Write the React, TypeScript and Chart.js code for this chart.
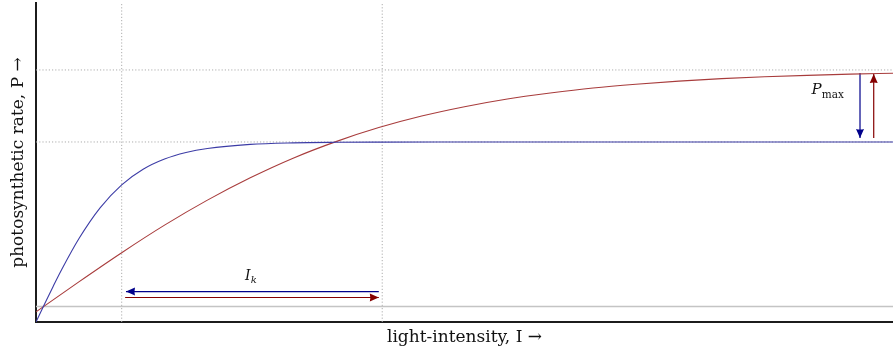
import { useEffect, useRef } from 'react';
import { Chart, registerables } from 'chart.js';

Chart.register(...registerables);

// light intensity axis (in units of the blue curve's I_k) and P axis (in units of blue P_max)
const X_MAX = 10;
const Y_MAX = 1.772;

const blueI = [0, 0.1, 0.2, 0.3, 0.5, 0.75, 1, 1.25, 1.5, 1.75, 2, 2.5, 3, 3.5, 4, 5, 6, 7, 8, 9, 10];
const blueP = [0, 0.0997, 0.1974, 0.2913, 0.4621, 0.6351, 0.7616, 0.8483, 0.9051, 0.9414, 0.964, 0.9866, 0.9951, 0.9982, 0.9993, 0.9999, 1, 1, 1, 1, 1];

const redI = [0, 0.5, 1, 1.5, 2, 2.5, 3, 3.5, 4, 4.5, 5, 5.5, 6, 6.5, 7, 7.5, 8, 8.5, 9, 9.5, 10];
const redP = [0.056, 0.223, 0.385, 0.538, 0.677, 0.801, 0.91, 1.002, 1.08, 1.144, 1.196, 1.239, 1.272, 1.3, 1.321, 1.338, 1.352, 1.362, 1.37, 1.377, 1.382];

const pmaxLevels = [1, 1.4];
const ikLevels = [1, 4.04];
const baseLevel = 0.086;

const ikBlueArrowI = [4.0, 1.05];
const ikBlueArrowP = [0.169, 0.169];
const ikRedArrowI = [1.04, 4.0];
const ikRedArrowP = [0.136, 0.136];
const pmaxBlueArrowI = [9.615, 9.615];
const pmaxBlueArrowP = [1.383, 1.022];
const pmaxRedArrowI = [9.775, 9.775];
const pmaxRedArrowP = [1.022, 1.378];

const ikLabelPos = [2.44, 0.233];
const pmaxLabelPos = [9.05, 1.267];

const BLUE = '#3c3ca6';
const RED = '#a83c3c';
const NAVY = '#00008b';
const DARKRED = '#850000';

const zip = (xs: number[], ys: number[]) => xs.map((x, i) => ({ x, y: ys[i] }));

function drawSubLabel(ctx: CanvasRenderingContext2D, x: number, y: number, main: string, mainSize: number, sub: string, subItalic: boolean, subSize: number, subDrop: number) {
  ctx.save();
  ctx.fillStyle = '#111';
  ctx.textBaseline = 'alphabetic';
  ctx.textAlign = 'left';
  ctx.font = `italic ${mainSize}px "DejaVu Serif"`;
  ctx.fillText(main, x, y);
  const w = ctx.measureText(main).width;
  ctx.font = `${subItalic ? 'italic ' : ''}${subSize}px "DejaVu Serif"`;
  ctx.fillText(sub, x + w, y + subDrop);
  ctx.restore();
}

const annotationPlugin = {
  id: 'annotations',
  afterDatasetsDraw(chart: any) {
    const ctx: CanvasRenderingContext2D = chart.ctx;
    chart.data.datasets.forEach((ds: any, i: number) => {
      if (!ds.arrow) return;
      const pts = chart.getDatasetMeta(i).data;
      const a = pts[pts.length - 2];
      const b = pts[pts.length - 1];
      const ang = Math.atan2(b.y - a.y, b.x - a.x);
      ctx.save();
      ctx.translate(b.x, b.y);
      ctx.rotate(ang);
      ctx.fillStyle = ds.borderColor;
      ctx.beginPath();
      ctx.moveTo(0, 0);
      ctx.lineTo(-9, -4);
      ctx.quadraticCurveTo(-8, 0, -9, 4);
      ctx.closePath();
      ctx.fill();
      ctx.restore();
    });
    const xs = chart.scales.x;
    const ys = chart.scales.y;
    drawSubLabel(ctx, xs.getPixelForValue(ikLabelPos[0]), ys.getPixelForValue(ikLabelPos[1]), 'I', 14, 'k', true, 10, 3);
    drawSubLabel(ctx, xs.getPixelForValue(pmaxLabelPos[0]), ys.getPixelForValue(pmaxLabelPos[1]), 'P', 15, 'max', false, 10.5, 4);
  },
};

export default function App() {
  const ref = useRef<HTMLCanvasElement | null>(null);

  useEffect(() => {
    document.body.style.margin = '0';
    if (!ref.current) return;
    const refLine = (data: { x: number; y: number }[]) => ({
      data,
      borderColor: '#adadad',
      borderWidth: 1,
      borderDash: [1.2, 2],
      pointRadius: 0,
      order: 10,
    });
    const arrowLine = (data: { x: number; y: number }[], color: string) => ({
      data,
      borderColor: color,
      borderWidth: 1.2,
      pointRadius: 0,
      arrow: true,
      order: 2,
    });
    const datasets: any[] = [
      ...pmaxLevels.map((p) => refLine([{ x: 0, y: p }, { x: X_MAX, y: p }])),
      ...ikLevels.map((i) => refLine([{ x: i, y: 0 }, { x: i, y: Y_MAX }])),
      {
        data: [{ x: 0, y: baseLevel }, { x: X_MAX, y: baseLevel }],
        borderColor: '#c4c4c4',
        borderWidth: 1.3,
        pointRadius: 0,
        order: 9,
      },
      {
        label: 'blue',
        data: zip(blueI, blueP),
        borderColor: BLUE,
        borderWidth: 1.1,
        pointRadius: 0,
        cubicInterpolationMode: 'monotone',
        order: 1,
      },
      {
        label: 'red',
        data: zip(redI, redP),
        borderColor: RED,
        borderWidth: 1.1,
        pointRadius: 0,
        cubicInterpolationMode: 'monotone',
        order: 1,
      },
      arrowLine(zip(ikBlueArrowI, ikBlueArrowP), NAVY),
      arrowLine(zip(ikRedArrowI, ikRedArrowP), DARKRED),
      arrowLine(zip(pmaxBlueArrowI, pmaxBlueArrowP), NAVY),
      arrowLine(zip(pmaxRedArrowI, pmaxRedArrowP), DARKRED),
    ];

    const chart = new Chart(ref.current, {
      type: 'line',
      data: { datasets },
      plugins: [annotationPlugin],
      options: {
        animation: false,
        responsive: false,
        events: [],
        layout: { padding: { top: 3, right: 0, left: 0, bottom: 0 } },
        plugins: { legend: { display: false }, tooltip: { enabled: false } },
        scales: {
          x: {
            type: 'linear',
            min: 0,
            max: X_MAX,
            grid: { display: false },
            ticks: { display: false },
            border: { display: true, color: '#1c1c1c', width: 2 },
            title: {
              display: true,
              text: 'light-intensity, I →',
              color: '#111',
              font: { family: '"DejaVu Serif"', size: 17 },
              padding: { top: 0, bottom: 5 },
            },
            afterFit: (s: any) => {
              s.height = 31;
            },
          },
          y: {
            type: 'linear',
            min: 0,
            max: Y_MAX,
            grid: { display: false },
            ticks: { display: false },
            border: { display: true, color: '#1c1c1c', width: 2 },
            title: {
              display: true,
              text: 'photosynthetic rate, P →',
              color: '#111',
              font: { family: '"DejaVu Serif"', size: 17 },
              padding: { top: 8, bottom: 0 },
            },
            afterFit: (s: any) => {
              s.width = 36;
            },
          },
        },
      } as any,
    });
    return () => chart.destroy();
  }, []);

  return (
    <div style={{ width: 893, height: 353 }}>
      <canvas ref={ref} width={893} height={353} />
    </div>
  );
}
